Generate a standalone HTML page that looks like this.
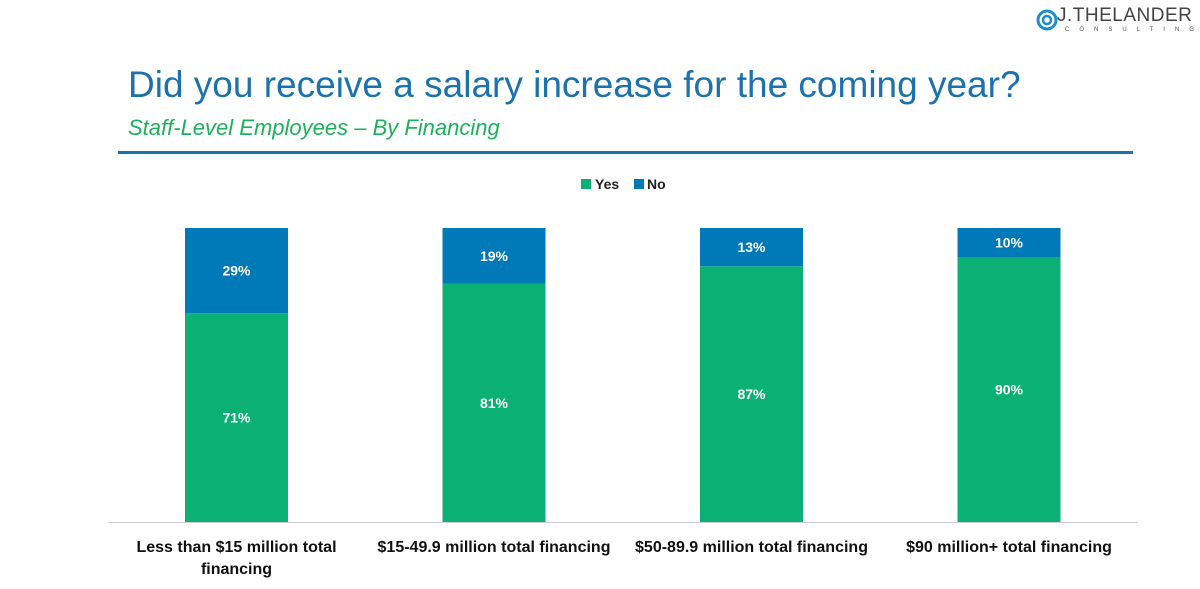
<!DOCTYPE html>
<html><head><meta charset="utf-8"><style>
body{margin:0;width:1200px;height:589px;background:#fff;overflow:hidden;font-family:"Liberation Sans",sans-serif;position:relative}
</style></head><body>
<div style="position:absolute;left:1035px;top:4px;width:160px;height:30px">
<svg width="26" height="26" style="position:absolute;left:0;top:2px"><circle cx="12" cy="14" r="9" fill="none" stroke="#1a8fd0" stroke-width="3"/><circle cx="12" cy="14" r="4" fill="none" stroke="#1a8fd0" stroke-width="2.5"/></svg>
<div style="position:absolute;left:22px;top:1px;font-size:19px;color:#444;letter-spacing:0.5px">J.THELANDER</div>
<div style="position:absolute;left:30px;top:23px;font-size:6px;color:#555;letter-spacing:10px">CONSULTING</div>
</div>
<div style="position:absolute;left:128px;top:64px;font-size:37px;color:#1b72ac">Did you receive a salary increase for the coming year?</div>
<div style="position:absolute;left:128px;top:115px;font-size:22px;font-style:italic;color:#1db25a">Staff-Level Employees – By Financing</div>
<div style="position:absolute;left:118px;top:151px;width:1015px;height:3px;background:#1b72ac"></div>
<svg id="chart" width="1200" height="589" style="position:absolute;left:0;top:0"></svg>
<script>
const categories=["Less than $15 million total|financing","$15-49.9 million total financing","$50-89.9 million total financing","$90 million+ total financing"];
const yesValues=[71,81,87,90];
const noValues=[29,19,13,10];
const svg=document.getElementById('chart');
const NS="http://www.w3.org/2000/svg";
const base=522,top0=228,H=base-top0;
function y(v){return base-v/100*H;}
function xc(i){return 236.5+i*257.5;}
const bw=103;
function el(t,a){const e=document.createElementNS(NS,t);for(const k in a)e.setAttribute(k,a[k]);svg.appendChild(e);return e;}
let r=el('rect',{x:581,y:179,width:10,height:10,fill:'#0bb075'});

let t=el('text',{x:595,y:189,'font-size':14,'font-weight':'bold',fill:'#222'});t.textContent='Yes';

r=el('rect',{x:634,y:179,width:10,height:10,fill:'#0079b8'});

t=el('text',{x:647,y:189,'font-size':14,'font-weight':'bold',fill:'#222'});t.textContent='No';

categories.forEach((c,i)=>{
  const x=xc(i)-bw/2;
  const yt=y(yesValues[i]);
  let b=el('rect',{x:x,y:yt,width:bw,height:base-yt,fill:'#0bb075'});
  
  const nt=y(yesValues[i]+noValues[i]);
  b=el('rect',{x:x,y:nt,width:bw,height:yt-nt,fill:'#0079b8'});
  
  let l=el('text',{x:xc(i),y:(yt+base)/2+5,'text-anchor':'middle','font-size':14,'font-weight':'bold',fill:'#fff'});l.textContent=yesValues[i]+'%';
  
  l=el('text',{x:xc(i),y:(nt+yt)/2+5,'text-anchor':'middle','font-size':14,'font-weight':'bold',fill:'#fff'});l.textContent=noValues[i]+'%';
  
  c.split('|').forEach((line,j)=>{
    const tx=el('text',{x:xc(i),y:552+j*22,'text-anchor':'middle','font-size':16,'font-weight':'bold',fill:'#111'});tx.textContent=line;
    
  });
});
const ax=el('line',{x1:108,x2:1138,y1:base+0.5,y2:base+0.5,stroke:'#d0d0d0','stroke-width':1});

</script>
</body></html>
